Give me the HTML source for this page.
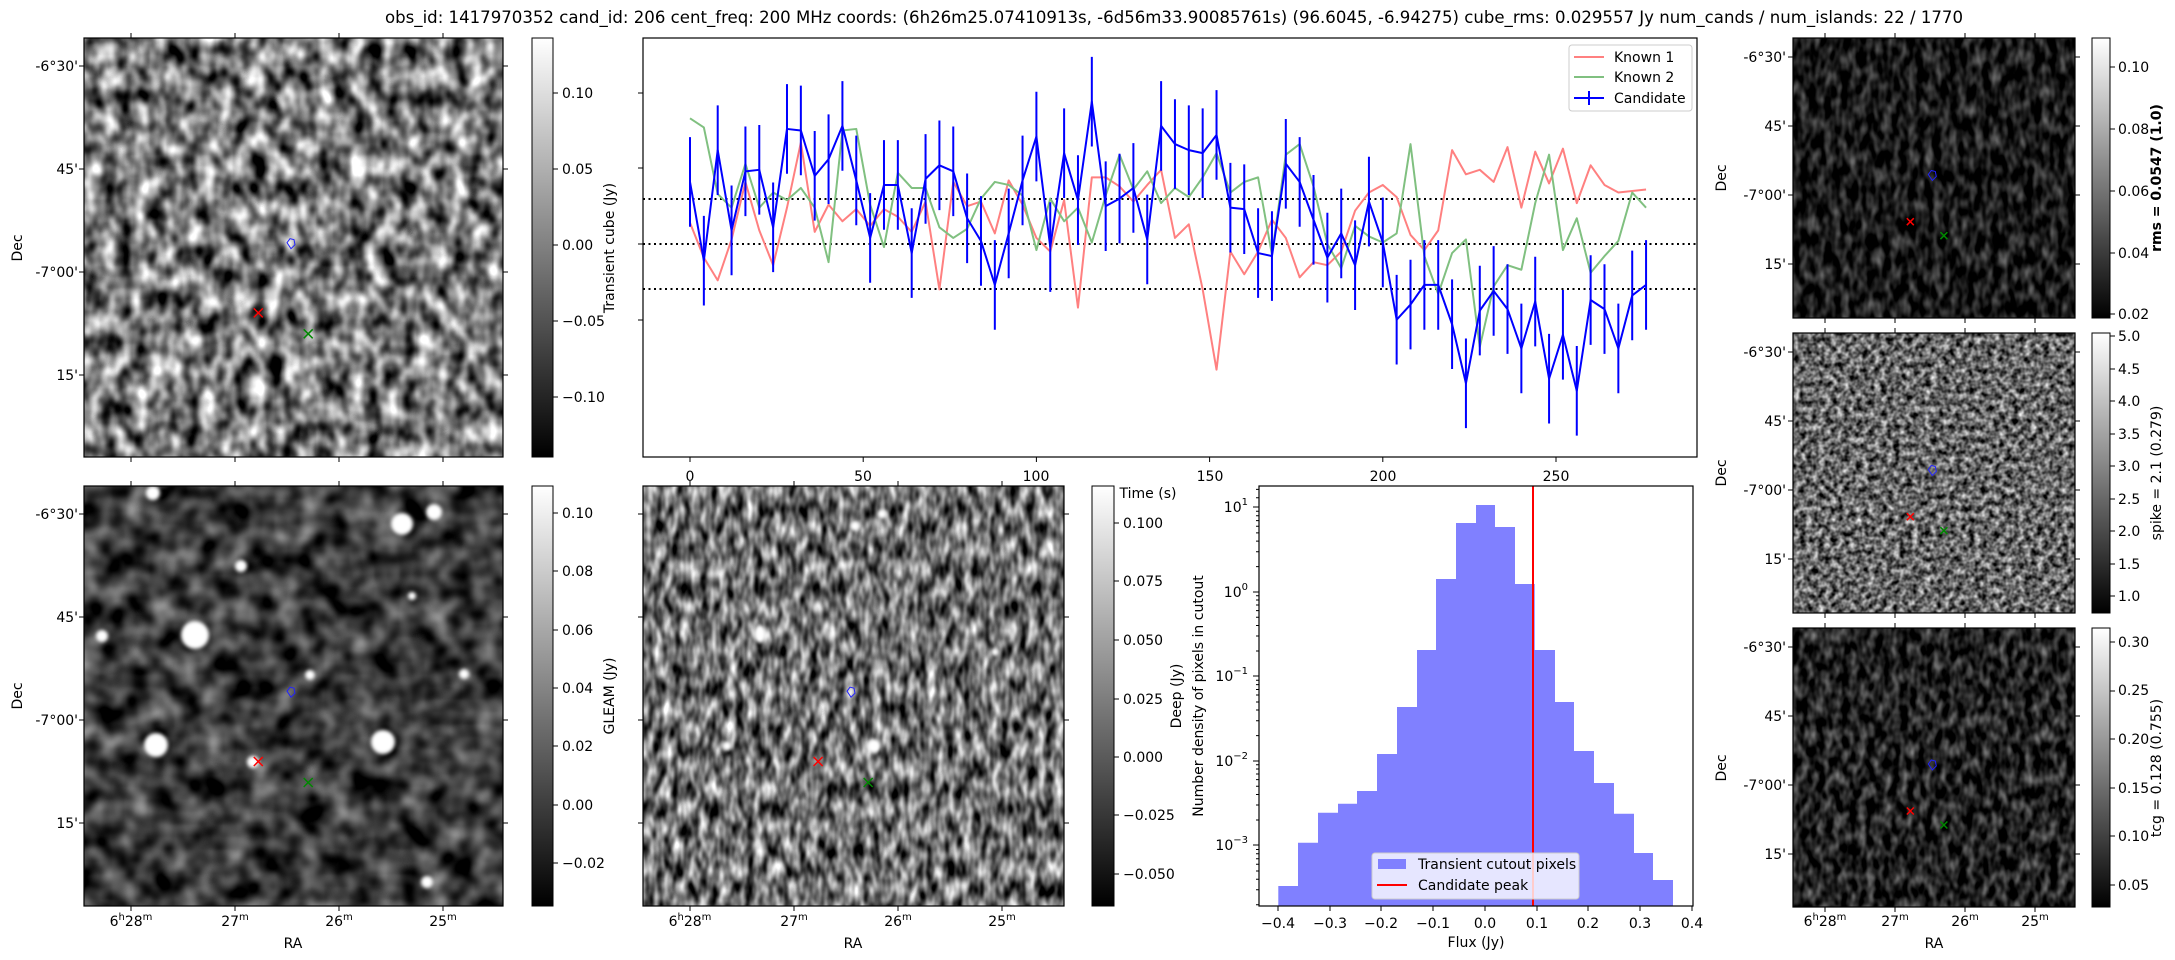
<!DOCTYPE html>
<html><head><meta charset="utf-8"><style>
html,body{margin:0;padding:0;background:#fff;}
svg{display:block;font-family:"DejaVu Sans","Liberation Sans",sans-serif;}
</style></head><body>
<svg width="2175" height="960" viewBox="0 0 2175 960" xmlns="http://www.w3.org/2000/svg">
<defs>
<filter id="fTL" x="0" y="0" width="1" height="1" color-interpolation-filters="sRGB">
<feTurbulence type="fractalNoise" baseFrequency="0.06 0.045" numOctaves="2" seed="3"/>
<feColorMatrix type="matrix" values="1.8 0 0 0 -0.42  1.8 0 0 0 -0.42  1.8 0 0 0 -0.42  0 0 0 0 1"/></filter>
<filter id="fBL" x="0" y="0" width="1" height="1" color-interpolation-filters="sRGB">
<feTurbulence type="fractalNoise" baseFrequency="0.04" numOctaves="2" seed="7"/>
<feColorMatrix type="matrix" values="1.0 0 0 0 -0.27  1.0 0 0 0 -0.27  1.0 0 0 0 -0.27  0 0 0 0 1"/></filter>
<filter id="fBM" x="0" y="0" width="1" height="1" color-interpolation-filters="sRGB">
<feTurbulence type="fractalNoise" baseFrequency="0.11 0.05" numOctaves="2" seed="11"/>
<feColorMatrix type="matrix" values="1.6 0 0 0 -0.36  1.6 0 0 0 -0.36  1.6 0 0 0 -0.36  0 0 0 0 1"/></filter>
<filter id="fTR" x="0" y="0" width="1" height="1" color-interpolation-filters="sRGB">
<feTurbulence type="fractalNoise" baseFrequency="0.12 0.06" numOctaves="2" seed="5"/>
<feColorMatrix type="matrix" values="0.8 0 0 0 -0.3  0.8 0 0 0 -0.3  0.8 0 0 0 -0.3  0 0 0 0 1"/></filter>
<filter id="fMR" x="0" y="0" width="1" height="1" color-interpolation-filters="sRGB">
<feTurbulence type="fractalNoise" baseFrequency="0.16" numOctaves="2" seed="9"/>
<feColorMatrix type="matrix" values="1.4 0 0 0 -0.3  1.4 0 0 0 -0.3  1.4 0 0 0 -0.3  0 0 0 0 1"/></filter>
<filter id="fBR" x="0" y="0" width="1" height="1" color-interpolation-filters="sRGB">
<feTurbulence type="fractalNoise" baseFrequency="0.12 0.07" numOctaves="2" seed="2"/>
<feColorMatrix type="matrix" values="0.9 0 0 0 -0.32  0.9 0 0 0 -0.32  0.9 0 0 0 -0.32  0 0 0 0 1"/></filter>
<filter id="blur"><feGaussianBlur stdDeviation="1.8"/></filter>
<linearGradient id="cb" x1="0" y1="0" x2="0" y2="1"><stop offset="0" stop-color="#fff"/><stop offset="1" stop-color="#000"/></linearGradient>
<clipPath id="cBL"><rect x="84" y="486" width="419" height="420"/></clipPath>
<clipPath id="cBM"><rect x="643" y="486" width="421" height="420"/></clipPath>
<g id="mk">
<path d="M-4 -1L-1 -5L3 -4L4 1L0 5Z" fill="none" stroke="#22f" stroke-width="1"/>
</g>
<path id="xr" d="M-4.5 -4.5L4.5 4.5M-4.5 4.5L4.5 -4.5" stroke="#f00" stroke-width="1.5"/>
<path id="xg" d="M-4.5 -4.5L4.5 4.5M-4.5 4.5L4.5 -4.5" stroke="#080" stroke-width="1.5"/>
<path id="xrs" d="M-3.5 -3.5L3.5 3.5M-3.5 3.5L3.5 -3.5" stroke="#f00" stroke-width="1.5"/>
<path id="xgs" d="M-3.5 -3.5L3.5 3.5M-3.5 3.5L3.5 -3.5" stroke="#080" stroke-width="1.5"/>
</defs>

<text x="1174" y="23" font-size="16.5" text-anchor="middle" textLength="1578" lengthAdjust="spacingAndGlyphs">obs_id: 1417970352 cand_id: 206 cent_freq: 200 MHz coords: (6h26m25.07410913s, -6d56m33.90085761s) (96.6045, -6.94275) cube_rms: 0.029557 Jy num_cands / num_islands: 22 / 1770</text>

<rect x="84" y="38" width="419" height="419" filter="url(#fTL)"/>
<rect x="84" y="486" width="419" height="420" filter="url(#fBL)"/>
<g clip-path="url(#cBL)" fill="#fff" filter="url(#blur)">
<circle cx="195" cy="635" r="14"/><circle cx="402" cy="524" r="11"/><circle cx="434" cy="512" r="8"/><circle cx="241" cy="566" r="6"/>
<circle cx="102" cy="636" r="6"/><circle cx="156" cy="745" r="12"/><circle cx="383" cy="742" r="12"/><circle cx="253" cy="762" r="6"/>
<circle cx="427" cy="882" r="6"/><circle cx="310" cy="675" r="5"/><circle cx="464" cy="674" r="5"/><circle cx="153" cy="493" r="7"/><circle cx="412" cy="596" r="4"/>
</g>
<rect x="643" y="486" width="421" height="420" filter="url(#fBM)"/>
<g clip-path="url(#cBM)" fill="#fff" filter="url(#blur)">
<ellipse cx="760" cy="634" rx="6" ry="9"/><circle cx="882" cy="514" r="5"/><circle cx="855" cy="526" r="5"/><circle cx="727" cy="746" r="5"/><circle cx="874" cy="746" r="7"/><circle cx="995" cy="652" r="4"/>
</g>
<rect x="1793" y="38" width="282" height="280" filter="url(#fTR)"/>
<rect x="1793" y="333" width="282" height="280" filter="url(#fMR)"/>
<rect x="1793" y="628" width="282" height="279" filter="url(#fBR)"/>

<use href="#mk" transform="translate(291,243.7)"/><use href="#xr" transform="translate(258.3,312.9)"/><use href="#xg" transform="translate(308.2,333.8)"/>
<use href="#mk" transform="translate(291,692.2)"/><use href="#xr" transform="translate(258.3,761.5)"/><use href="#xg" transform="translate(308.2,782.5)"/>
<use href="#mk" transform="translate(851,692.2)"/><use href="#xr" transform="translate(818.1,761.5)"/><use href="#xg" transform="translate(868.2,782.5)"/>
<use href="#mk" transform="translate(1932.3,175.5)"/><use href="#xrs" transform="translate(1910.3,221.7)"/><use href="#xgs" transform="translate(1943.9,235.7)"/>
<use href="#mk" transform="translate(1932.3,470.5)"/><use href="#xrs" transform="translate(1910.3,516.7)"/><use href="#xgs" transform="translate(1943.9,530.7)"/>
<use href="#mk" transform="translate(1932.3,765)"/><use href="#xrs" transform="translate(1910.3,811)"/><use href="#xgs" transform="translate(1943.9,825)"/>

<path d="M1278.3 906V886H1298V842.7H1318V812.7H1338V803.7H1357V791H1377V754H1397V707H1417V650H1436V579H1456V523H1476V505H1495V527H1515V584H1534.7V650H1555V702H1574V751H1594V783H1614V813.7H1634V853H1653V880H1673V906Z" fill="#8080ff"/>
<line x1="1533" y1="486" x2="1533" y2="906" stroke="#f00" stroke-width="2"/>

<g stroke="#000" stroke-width="2" stroke-dasharray="2,3.5">
<line x1="643" y1="199" x2="1697" y2="199"/><line x1="643" y1="244" x2="1697" y2="244"/><line x1="643" y1="289" x2="1697" y2="289"/>
</g>
<g transform="translate(690,244) scale(13.856,-1514)" fill="none" stroke-linejoin="round">
<polyline vector-effect="non-scaling-stroke" stroke="#ff8080" stroke-width="2" points="0,0.014 1,-0.009 2,-0.024 3,0.003 4,0.041 5,0.009 6,-0.014 7,0.024 8,0.067 9,0.008 10,0.026 11,0.015 12,0.023 13,0.012 14,0.023 15,0.018 16,0.008 17,0.028 18,-0.030 19,0.041 20,0.025 21,0.028 22,0.007 23,0.042 24,0.026 25,0.004 26,-0.005 27,0.029 28,-0.042 29,0.044 30,0.044 31,0.038 32,0.028 33,0.039 34,0.049 35,0.004 36,0.013 37,-0.030 38,-0.083 39,-0.005 40,-0.020 41,-0.005 42,0.016 43,0.004 44,-0.022 45,-0.012 46,-0.014 47,-0.005 48,0.022 49,0.034 50,0.039 51,0.031 52,0.006 53,-0.004 54,0.009 55,0.062 56,0.046 57,0.049 58,0.041 59,0.064 60,0.024 61,0.061 62,0.040 63,0.063 64,0.027 65,0.052 66,0.039 67,0.034 68,0.035 69,0.036"/>
<polyline vector-effect="non-scaling-stroke" stroke="#80c080" stroke-width="2" points="0,0.083 1,0.077 2,0.033 3,0.024 4,0.053 5,0.024 6,0.034 7,0.029 8,0.037 9,0.024 10,-0.012 11,0.075 12,0.076 13,0.026 14,-0.002 15,0.047 16,0.037 17,0.037 18,0.011 19,0.004 20,0.010 21,0.030 22,0.041 23,0.039 24,0.032 25,-0.004 26,0.030 27,0.015 28,0.024 29,0.001 30,0.032 31,0.059 32,0.036 33,0.048 34,0.027 35,0.037 36,0.031 37,0.044 38,0.060 39,0.034 40,0.041 41,0.044 42,-0.007 43,0.059 44,0.066 45,0.038 46,0.000 47,-0.016 48,0.012 49,0.005 50,0.001 51,0.007 52,0.066 53,-0.008 54,-0.033 55,-0.006 56,0.003 57,-0.068 58,-0.028 59,-0.014 60,-0.017 61,0.027 62,0.059 63,-0.004 64,0.017 65,-0.019 66,-0.008 67,0.002 68,0.034 69,0.024"/>
<path vector-effect="non-scaling-stroke" stroke="#00f" stroke-width="2" d="M0 0.0114v0.0592M1 -0.0406v0.0592M2 0.0324v0.0592M3 -0.0206v0.0592M4 0.0184v0.0592M5 0.0194v0.0592M6 -0.0186v0.0592M7 0.0464v0.0592M8 0.0454v0.0592M9 0.0154v0.0592M10 0.0264v0.0592M11 0.0484v0.0592M12 0.0124v0.0592M13 -0.0256v0.0592M14 0.0094v0.0592M15 0.0094v0.0592M16 -0.0356v0.0592M17 0.0134v0.0592M18 0.0224v0.0592M19 0.0184v0.0592M20 -0.0126v0.0592M21 -0.0276v0.0592M22 -0.0566v0.0592M23 -0.0226v0.0592M24 0.0124v0.0592M25 0.0414v0.0592M26 -0.0316v0.0592M27 0.0304v0.0592M28 -0.0006v0.0592M29 0.0644v0.0592M30 -0.0046v0.0592M31 0.0004v0.0592M32 0.0074v0.0592M33 -0.0266v0.0592M34 0.0484v0.0592M35 0.0364v0.0592M36 0.0324v0.0592M37 0.0304v0.0592M38 0.0424v0.0592M39 -0.0056v0.0592M40 -0.0066v0.0592M41 -0.0356v0.0592M42 -0.0376v0.0592M43 0.0234v0.0592M44 0.0114v0.0592M45 -0.0136v0.0592M46 -0.0386v0.0592M47 -0.0226v0.0592M48 -0.0436v0.0592M49 -0.0016v0.0592M50 -0.0286v0.0592M51 -0.0796v0.0592M52 -0.0696v0.0592M53 -0.0566v0.0592M54 -0.0566v0.0592M55 -0.0826v0.0592M56 -0.1216v0.0592M57 -0.0736v0.0592M58 -0.0606v0.0592M59 -0.0726v0.0592M60 -0.0986v0.0592M61 -0.0676v0.0592M62 -0.1186v0.0592M63 -0.0896v0.0592M64 -0.1266v0.0592M65 -0.0666v0.0592M66 -0.0726v0.0592M67 -0.0986v0.0592M68 -0.0636v0.0592M69 -0.0566v0.0592"/>
<polyline vector-effect="non-scaling-stroke" stroke="#00f" stroke-width="2" points="0,0.041 1,-0.011 2,0.062 3,0.009 4,0.048 5,0.049 6,0.011 7,0.076 8,0.075 9,0.045 10,0.056 11,0.078 12,0.042 13,0.004 14,0.039 15,0.039 16,-0.006 17,0.043 18,0.052 19,0.048 20,0.017 21,0.002 22,-0.027 23,0.007 24,0.042 25,0.071 26,-0.002 27,0.060 28,0.029 29,0.094 30,0.025 31,0.030 32,0.037 33,0.003 34,0.078 35,0.066 36,0.062 37,0.060 38,0.072 39,0.024 40,0.023 41,-0.006 42,-0.008 43,0.053 44,0.041 45,0.016 46,-0.009 47,0.007 48,-0.014 49,0.028 50,0.001 51,-0.050 52,-0.040 53,-0.027 54,-0.027 55,-0.053 56,-0.092 57,-0.044 58,-0.031 59,-0.043 60,-0.069 61,-0.038 62,-0.089 63,-0.060 64,-0.097 65,-0.037 66,-0.043 67,-0.069 68,-0.034 69,-0.027"/>
</g>

<g fill="none" stroke="#000" stroke-width="1.2">
<rect x="84" y="38" width="419" height="419"/>
<rect x="84" y="486" width="419" height="420"/>
<rect x="643" y="486" width="421" height="420"/>
<rect x="1793" y="38" width="282" height="280"/>
<rect x="1793" y="333" width="282" height="280"/>
<rect x="1793" y="628" width="282" height="279"/>
<rect x="643" y="38" width="1054" height="419"/>
<rect x="1259" y="486" width="434" height="420"/>
</g>

<g stroke="#000" stroke-width="1">
<rect x="532" y="38" width="21" height="419" fill="url(#cb)"/>
<rect x="532" y="486" width="21" height="420" fill="url(#cb)"/>
<rect x="1092" y="486" width="22" height="420" fill="url(#cb)"/>
<rect x="2092" y="38" width="18" height="280" fill="url(#cb)"/>
<rect x="2092" y="333" width="18" height="280" fill="url(#cb)"/>
<rect x="2092" y="628" width="18" height="279" fill="url(#cb)"/>
</g>

<path fill="none" stroke="#000" stroke-width="1" d="
M131 457v5M235 457v5M339 457v5M443 457v5M131 38v-5M235 38v-5M339 38v-5M443 38v-5
M84 66h-5M84 169h-5M84 272h-5M84 375h-5M503 66h5M503 169h5M503 272h5M503 375h5
M131 906v5M235 906v5M339 906v5M443 906v5M131 486v-5M235 486v-5M339 486v-5M443 486v-5
M84 514h-5M84 617h-5M84 720h-5M84 823h-5M503 514h5M503 617h5M503 720h5M503 823h5
M690 906v5M794 906v5M898 906v5M1002 906v5M690 486v-5M794 486v-5M898 486v-5M1002 486v-5
M643 514h-5M643 617h-5M643 720h-5M643 823h-5M1064 514h5M1064 617h5M1064 720h5M1064 823h5
M1825 318v5M1895 318v5M1965 318v5M2035 318v5M1825 38v-5M1895 38v-5M1965 38v-5M2035 38v-5
M1793 57h-5M1793 126h-5M1793 195h-5M1793 264h-5M2075 57h5M2075 126h5M2075 195h5M2075 264h5
M1825 613v5M1895 613v5M1965 613v5M2035 613v5M1825 333v-5M1895 333v-5M1965 333v-5M2035 333v-5
M1793 352h-5M1793 421h-5M1793 490h-5M1793 559h-5M2075 352h5M2075 421h5M2075 490h5M2075 559h5
M1825 907v5M1895 907v5M1965 907v5M2035 907v5M1825 628v-5M1895 628v-5M1965 628v-5M2035 628v-5
M1793 647h-5M1793 716h-5M1793 785h-5M1793 854h-5M2075 647h5M2075 716h5M2075 785h5M2075 854h5
M553 93h5M553 169h5M553 245h5M553 321h5M553 397h5
M553 513h5M553 571h5M553 630h5M553 688h5M553 746h5M553 805h5M553 863h5
M1114 523h5M1114 581h5M1114 640h5M1114 699h5M1114 757h5M1114 815h5M1114 874h5
M2110 67h5M2110 129h5M2110 191h5M2110 253h5M2110 314h5
M2110 336h5M2110 369h5M2110 401h5M2110 434h5M2110 466h5M2110 499h5M2110 531h5M2110 564h5M2110 596h5
M2110 642h5M2110 691h5M2110 739h5M2110 788h5M2110 836h5M2110 885h5
M690 457v5M863.2 457v5M1036.4 457v5M1209.6 457v5M1382.8 457v5M1556 457v5
M643 93h-5M643 168h-5M643 244h-5M643 320h-5
M1278 906v5M1330 906v5M1381 906v5M1433 906v5M1485 906v5M1537 906v5M1588 906v5M1640 906v5M1692 906v5
M1259 507h-6M1259 592h-6M1259 676h-6M1259 761h-6M1259 845h-6
M1259 566.6h-3M1259 551.7h-3M1259 541.1h-3M1259 532.9h-3M1259 526.2h-3M1259 520.6h-3M1259 515.7h-3M1259 511.3h-3
M1259 651h-3M1259 636h-3M1259 625.5h-3M1259 617.3h-3M1259 610.6h-3M1259 605h-3M1259 600h-3M1259 595.7h-3
M1259 735.6h-3M1259 720.7h-3M1259 710h-3M1259 702h-3M1259 695h-3M1259 689.5h-3M1259 684.6h-3M1259 680.2h-3
M1259 820h-3M1259 805h-3M1259 794.5h-3M1259 786.3h-3M1259 779.6h-3M1259 774h-3M1259 769h-3M1259 764.7h-3
M1259 904.7h-3M1259 889.8h-3M1259 879.3h-3M1259 871h-3M1259 864.3h-3M1259 858.7h-3M1259 853.8h-3M1259 849.5h-3
M1259 489.4h-3M1259 497.7h-3"/>

<g font-size="14" fill="#000">
<text x="562" y="98">0.10</text><text x="562" y="174">0.05</text><text x="562" y="250">0.00</text><text x="562" y="326">−0.05</text><text x="562" y="402">−0.10</text>
<text x="562" y="518">0.10</text><text x="562" y="576">0.08</text><text x="562" y="635">0.06</text><text x="562" y="693">0.04</text><text x="562" y="751">0.02</text><text x="562" y="810">0.00</text><text x="562" y="868">−0.02</text>
<text x="1123" y="528">0.100</text><text x="1123" y="586">0.075</text><text x="1123" y="645">0.050</text><text x="1123" y="704">0.025</text><text x="1123" y="762">0.000</text><text x="1123" y="820">−0.025</text><text x="1123" y="879">−0.050</text>
<text x="2118" y="72">0.10</text><text x="2118" y="134">0.08</text><text x="2118" y="196">0.06</text><text x="2118" y="258">0.04</text><text x="2118" y="319">0.02</text>
<text x="2118" y="341">5.0</text><text x="2118" y="374">4.5</text><text x="2118" y="406">4.0</text><text x="2118" y="439">3.5</text><text x="2118" y="471">3.0</text><text x="2118" y="504">2.5</text><text x="2118" y="536">2.0</text><text x="2118" y="569">1.5</text><text x="2118" y="601">1.0</text>
<text x="2118" y="647">0.30</text><text x="2118" y="695">0.25</text><text x="2118" y="744">0.20</text><text x="2118" y="793">0.15</text><text x="2118" y="841">0.10</text><text x="2118" y="890">0.05</text>

<g text-anchor="end">
<text x="78" y="71">-6°30'</text><text x="78" y="174">45'</text><text x="78" y="277">-7°00'</text><text x="78" y="380">15'</text>
<text x="78" y="519">-6°30'</text><text x="78" y="622">45'</text><text x="78" y="725">-7°00'</text><text x="78" y="828">15'</text>
<text x="1786" y="62">-6°30'</text><text x="1786" y="131">45'</text><text x="1786" y="200">-7°00'</text><text x="1786" y="269">15'</text>
<text x="1786" y="357">-6°30'</text><text x="1786" y="426">45'</text><text x="1786" y="495">-7°00'</text><text x="1786" y="564">15'</text>
<text x="1786" y="652">-6°30'</text><text x="1786" y="721">45'</text><text x="1786" y="790">-7°00'</text><text x="1786" y="859">15'</text>
<text x="1248" y="512">10<tspan font-size="10" dy="-7">1</tspan></text>
<text x="1248" y="597">10<tspan font-size="10" dy="-7">0</tspan></text>
<text x="1248" y="681">10<tspan font-size="10" dy="-7">−1</tspan></text>
<text x="1248" y="766">10<tspan font-size="10" dy="-7">−2</tspan></text>
<text x="1248" y="850">10<tspan font-size="10" dy="-7">−3</tspan></text>
</g>
<g text-anchor="middle">
<text transform="translate(22,248) rotate(-90)">Dec</text>
<text transform="translate(22,696) rotate(-90)">Dec</text>
<text transform="translate(1726,178) rotate(-90)">Dec</text>
<text transform="translate(1726,473) rotate(-90)">Dec</text>
<text transform="translate(1726,768) rotate(-90)">Dec</text>
<text transform="translate(614,248) rotate(-90)">Transient cube (Jy)</text>
<text transform="translate(614,696) rotate(-90)">GLEAM (Jy)</text>
<text transform="translate(1181,696) rotate(-90)">Deep (Jy)</text>
<text transform="translate(1203,696) rotate(-90)">Number density of pixels in cutout</text>
<text transform="translate(2161,178) rotate(-90)" font-weight="bold">rms = 0.0547 (1.0)</text>
<text transform="translate(2161,473) rotate(-90)">spike = 2.1 (0.279)</text>
<text transform="translate(2161,768) rotate(-90)">tcg = 0.128 (0.755)</text>
<text x="131" y="926">6<tspan font-size="10" dy="-6">h</tspan><tspan dy="6">28</tspan><tspan font-size="10" dy="-6">m</tspan></text>
<text x="235" y="926">27<tspan font-size="10" dy="-6">m</tspan></text>
<text x="339" y="926">26<tspan font-size="10" dy="-6">m</tspan></text>
<text x="443" y="926">25<tspan font-size="10" dy="-6">m</tspan></text>
<text x="690" y="926">6<tspan font-size="10" dy="-6">h</tspan><tspan dy="6">28</tspan><tspan font-size="10" dy="-6">m</tspan></text>
<text x="794" y="926">27<tspan font-size="10" dy="-6">m</tspan></text>
<text x="898" y="926">26<tspan font-size="10" dy="-6">m</tspan></text>
<text x="1002" y="926">25<tspan font-size="10" dy="-6">m</tspan></text>
<text x="1825" y="926">6<tspan font-size="10" dy="-6">h</tspan><tspan dy="6">28</tspan><tspan font-size="10" dy="-6">m</tspan></text>
<text x="1895" y="926">27<tspan font-size="10" dy="-6">m</tspan></text>
<text x="1965" y="926">26<tspan font-size="10" dy="-6">m</tspan></text>
<text x="2035" y="926">25<tspan font-size="10" dy="-6">m</tspan></text>
<text x="293" y="948">RA</text><text x="853" y="948">RA</text><text x="1934" y="948">RA</text>
<text x="690" y="481">0</text><text x="863" y="481">50</text><text x="1036" y="481">100</text><text x="1210" y="481">150</text><text x="1383" y="481">200</text><text x="1556" y="481">250</text>
<text x="1148" y="498">Time (s)</text>
<text x="1278" y="928">−0.4</text><text x="1330" y="928">−0.3</text><text x="1381" y="928">−0.2</text><text x="1433" y="928">−0.1</text><text x="1485" y="928">0.0</text><text x="1537" y="928">0.1</text><text x="1588" y="928">0.2</text><text x="1640" y="928">0.3</text><text x="1692" y="928">0.4</text>
<text x="1476" y="947">Flux (Jy)</text>
</g>
</g>

<rect x="1569" y="45" width="123" height="66" rx="3" fill="#fff" fill-opacity="0.8" stroke="#ccc"/>
<line x1="1574" y1="57" x2="1604" y2="57" stroke="#ff8080" stroke-width="2"/>
<line x1="1574" y1="77" x2="1604" y2="77" stroke="#80c080" stroke-width="2"/>
<line x1="1574" y1="98" x2="1604" y2="98" stroke="#00f" stroke-width="2"/>
<line x1="1589" y1="91" x2="1589" y2="105" stroke="#00f" stroke-width="2"/>
<g font-size="14"><text x="1614" y="62">Known 1</text><text x="1614" y="82">Known 2</text><text x="1614" y="103">Candidate</text></g>

<rect x="1372" y="853" width="207" height="46" rx="3" fill="#fff" fill-opacity="0.8" stroke="#ccc"/>
<rect x="1378" y="859" width="28" height="10" fill="#8080ff"/>
<line x1="1377" y1="885" x2="1407" y2="885" stroke="#f00" stroke-width="2"/>
<g font-size="14"><text x="1418" y="869">Transient cutout pixels</text><text x="1418" y="890">Candidate peak</text></g>
</svg>
</body></html>
